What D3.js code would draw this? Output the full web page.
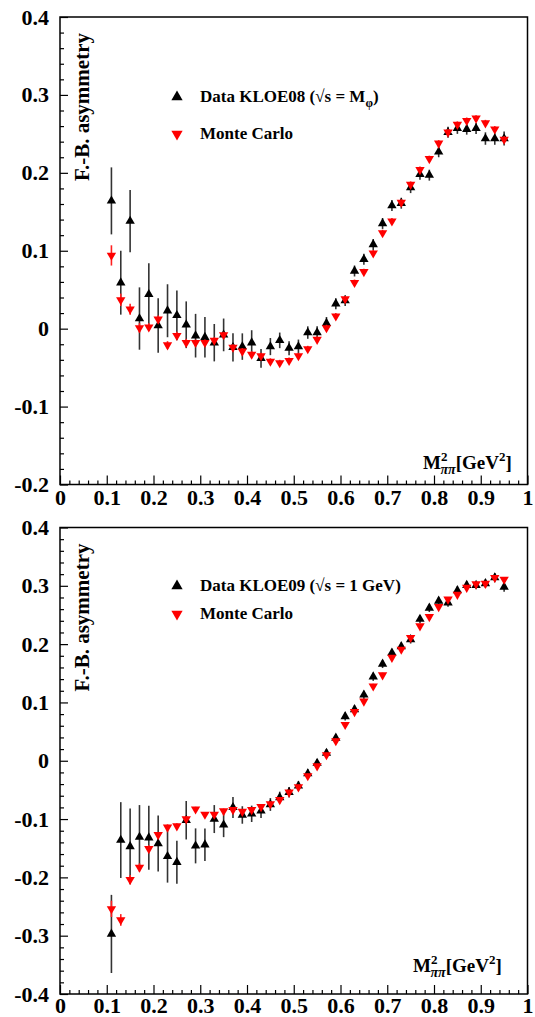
<!DOCTYPE html>
<html><head><meta charset="utf-8">
<script src="https://cdn.jsdelivr.net/npm/d3@7"></script>
<style>
body{margin:0;background:#fff;}
svg{display:block;}
svg text{font-family:"Liberation Serif","DejaVu Serif","Times New Roman",serif !important;font-weight:bold;}
</style></head>
<body>
<svg id="c" width="535" height="1017"></svg>
<script>
// ---------- DATA ----------
const mass = [0.11,0.13,0.15,0.17,0.19,0.21,0.23,0.25,0.27,0.29,0.31,0.33,0.35,0.37,0.39,0.41,0.43,0.45,0.47,0.49,0.51,0.53,0.55,0.57,0.59,0.61,0.63,0.65,0.67,0.69,0.71,0.73,0.75,0.77,0.79,0.81,0.83,0.85,0.87,0.89,0.91,0.93,0.95];

const kloe08 = [0.164,0.059,0.138,0.013,0.044,0.004,0.023,0.017,0.005,-0.009,-0.011,-0.018,-0.008,-0.024,-0.023,-0.018,-0.038,-0.023,-0.015,-0.025,-0.023,-0.005,-0.005,0.007,0.032,0.036,0.074,0.089,0.108,0.135,0.158,0.161,0.181,0.198,0.197,0.227,0.252,0.257,0.256,0.257,0.244,0.244,0.244];
const kloe08Err = [0.043,0.041,0.040,0.040,0.040,0.035,0.034,0.032,0.030,0.028,0.026,0.024,0.021,0.018,0.017,0.016,0.012,0.011,0.010,0.009,0.009,0.008,0.008,0.008,0.007,0.007,0.007,0.007,0.007,0.007,0.007,0.007,0.007,0.007,0.007,0.007,0.007,0.007,0.007,0.007,0.008,0.008,0.009];
const mc08 = [0.094,0.037,0.025,0.001,0.002,0.012,-0.021,-0.009,-0.018,-0.018,-0.018,-0.015,-0.008,-0.024,-0.029,-0.033,-0.035,-0.042,-0.044,-0.041,-0.035,-0.026,-0.014,0.001,0.016,0.038,0.059,0.073,0.097,0.123,0.138,0.162,0.185,0.204,0.218,0.238,0.252,0.262,0.267,0.270,0.264,0.256,0.243];
const mc08Err = [0.013,0.008,0.007,0.006,0.005,0.005,0.005,0.005,0.005,0.004,0.004,0.004,0.004,0.004,0.004,0.004,0.004,0.004,0.004,0.004,0.004,0.004,0.004,0.004,0.004,0.004,0.004,0.004,0.004,0.004,0.004,0.004,0.004,0.004,0.004,0.004,0.004,0.004,0.004,0.004,0.004,0.004,0.004];

const kloe09 = [-0.297,-0.136,-0.147,-0.131,-0.132,-0.142,-0.164,-0.174,-0.102,-0.146,-0.144,-0.100,-0.110,-0.080,-0.093,-0.091,-0.086,-0.075,-0.063,-0.054,-0.043,-0.022,-0.004,0.013,0.039,0.076,0.088,0.113,0.144,0.166,0.185,0.196,0.208,0.243,0.262,0.274,0.271,0.292,0.301,0.301,0.304,0.314,0.298];
const kloe09Err = [0.067,0.065,0.065,0.055,0.055,0.048,0.045,0.037,0.033,0.030,0.028,0.024,0.021,0.018,0.015,0.014,0.012,0.011,0.010,0.009,0.008,0.008,0.007,0.007,0.007,0.007,0.007,0.007,0.007,0.007,0.007,0.007,0.007,0.007,0.007,0.007,0.007,0.007,0.007,0.007,0.007,0.008,0.008];
const mc09 = [-0.254,-0.273,-0.204,-0.183,-0.151,-0.127,-0.114,-0.112,-0.100,-0.083,-0.092,-0.092,-0.086,-0.084,-0.087,-0.084,-0.079,-0.074,-0.067,-0.054,-0.045,-0.026,-0.009,0.010,0.034,0.062,0.084,0.102,0.128,0.147,0.177,0.191,0.211,0.231,0.247,0.264,0.277,0.285,0.297,0.303,0.304,0.314,0.311];
const mc09Err = [0.014,0.010,0.008,0.007,0.006,0.005,0.005,0.005,0.005,0.004,0.004,0.004,0.004,0.004,0.004,0.004,0.004,0.004,0.004,0.004,0.004,0.004,0.004,0.004,0.004,0.004,0.004,0.004,0.004,0.004,0.004,0.004,0.004,0.004,0.004,0.004,0.004,0.004,0.004,0.004,0.004,0.004,0.004];

const xTicks = [0,0.1,0.2,0.3,0.4,0.5,0.6,0.7,0.8,0.9,1];
const xTickLabels = ["0","0.1","0.2","0.3","0.4","0.5","0.6","0.7","0.8","0.9","1"];
const yTicksTop = [-0.2,-0.1,0,0.1,0.2,0.3,0.4];
const yTickLabelsTop = ["-0.2","-0.1","0","0.1","0.2","0.3","0.4"];
const yTicksBot = [-0.4,-0.3,-0.2,-0.1,0,0.1,0.2,0.3,0.4];
const yTickLabelsBot = ["-0.4","-0.3","-0.2","-0.1","0","0.1","0.2","0.3","0.4"];
const yTitle = "F.-B. asymmetry";
const legendTop = ["Data KLOE08", "Monte Carlo"];
const legendBot = ["Data KLOE09 (\u221As = 1 GeV)", "Monte Carlo"];

// ---------- DRAW ----------
const svg = d3.select("#c");
const L = 60, R = 527.5;
const FONT = '"Liberation Serif","DejaVu Serif",serif';

function panel(cfg){
  const g = svg.append("g");
  const x = d3.scaleLinear().domain([0,1]).range([L,R]);
  const y = d3.scaleLinear().domain(cfg.ydom).range([cfg.bottom,cfg.top]);

  const xMinor = d3.range(0,1.0001,0.02).filter(v=>Math.abs(v*10-Math.round(v*10))>1e-6);
  g.append("g").attr("transform",`translate(0,${cfg.bottom})`)
    .call(d3.axisBottom(x).tickValues(xMinor).tickSize(-4).tickFormat(""))
    .call(a=>a.select(".domain").remove())
    .call(a=>a.selectAll("line").attr("stroke","#000").attr("stroke-width",1.2));
  const yMinor = d3.range(cfg.ydom[0],cfg.ydom[1]+1e-6,0.02).filter(v=>Math.abs(v*10-Math.round(v*10))>1e-6);
  g.append("g").attr("transform",`translate(${L},0)`)
    .call(d3.axisLeft(y).tickValues(yMinor).tickSize(-4).tickFormat(""))
    .call(a=>a.select(".domain").remove())
    .call(a=>a.selectAll("line").attr("stroke","#000").attr("stroke-width",1.2));

  const xa = g.append("g").attr("transform",`translate(0,${cfg.bottom})`)
    .call(d3.axisBottom(x).tickValues(xTicks).tickSize(-9).tickPadding(cfg.xpad)
      .tickFormat((d,i)=>xTickLabels[i]));
  const ya = g.append("g").attr("transform",`translate(${L},0)`)
    .call(d3.axisLeft(y).tickValues(cfg.yticks).tickSize(-8).tickPadding(11)
      .tickFormat((d,i)=>cfg.ylabels[i]));
  [xa,ya].forEach(a=>{
    a.attr("font-family",FONT).attr("font-size",22);
    a.select(".domain").remove();
    a.selectAll("line").attr("stroke","#000").attr("stroke-width",1.2);
    a.selectAll("text").attr("fill","#000");
  });

  g.append("rect").attr("x",L).attr("y",cfg.top).attr("width",R-L).attr("height",cfg.bottom-cfg.top)
    .attr("fill","none").attr("stroke","#000").attr("stroke-width",1.5);

  g.append("text").attr("transform",`translate(89,${cfg.top+16}) rotate(-90)`)
    .attr("text-anchor","end").attr("font-size",21).text(yTitle);

  const xt = g.append("text").attr("x",cfg.xtx).attr("y",cfg.xty).attr("font-size",19);
  xt.append("tspan").text("M");
  xt.append("tspan").attr("dy",-8).attr("font-size",13).text("2");
  xt.append("tspan").attr("dx",-7).attr("dy",13).attr("font-size",14).attr("font-style","italic").text("\u03C0\u03C0");
  xt.append("tspan").attr("dy",-5).text("[GeV");
  xt.append("tspan").attr("dy",-8).attr("font-size",13).text("2");
  xt.append("tspan").attr("dy",8).text("]");

  function series(vals, errs, color, ecolor, down){
    const sg = g.append("g");
    sg.selectAll("line").data(mass).join("line")
      .attr("x1",d=>x(d)).attr("x2",d=>x(d))
      .attr("y1",(d,i)=>y(vals[i]-errs[i])).attr("y2",(d,i)=>y(vals[i]+errs[i]))
      .attr("stroke",ecolor).attr("stroke-width",1.6);
    sg.selectAll("path").data(mass).join("path")
      .attr("d",d3.symbol(d3.symbolTriangle,38))
      .attr("transform",(d,i)=>`translate(${x(d)},${y(vals[i])})${down?" rotate(180)":""}`)
      .attr("fill",color);
  }
  series(cfg.dat, cfg.datErr, "#000", "#333", false);
  series(cfg.mc, cfg.mcErr, "#ff0000", "#ff2020", true);

  const lg = g.append("g");
  lg.append("path").attr("d",d3.symbol(d3.symbolTriangle,55))
    .attr("transform",`translate(177,${cfg.leg1})`).attr("fill","#000");
  lg.append("path").attr("d",d3.symbol(d3.symbolTriangle,55))
    .attr("transform",`translate(177,${cfg.leg2}) rotate(180)`).attr("fill","#ff0000");
  const t1 = lg.append("text").attr("x",200).attr("y",cfg.leg1+5).attr("font-size",17);
  cfg.leg1text(t1);
  lg.append("text").attr("x",200).attr("y",cfg.leg2+5).attr("font-size",17).text(cfg.legend[1]);
}

panel({top:17,bottom:484.5,ydom:[-0.2,0.4],yticks:yTicksTop,ylabels:yTickLabelsTop,
  dat:kloe08,datErr:kloe08Err,mc:mc08,mcErr:mc08Err,xtx:423,xty:469,xpad:5,
  leg1:97,leg2:134,legend:legendTop,
  leg1text:t=>{t.append("tspan").text(legendTop[0]+" (\u221As = M");
    t.append("tspan").attr("dy",5).attr("font-size",12).text("\u03C6");
    t.append("tspan").attr("dy",-5).text(")");}});

panel({top:527.5,bottom:994,ydom:[-0.4,0.4],yticks:yTicksBot,ylabels:yTickLabelsBot,
  dat:kloe09,datErr:kloe09Err,mc:mc09,mcErr:mc09Err,xtx:413,xty:972,xpad:3,
  leg1:586,leg2:614,legend:legendBot,
  leg1text:t=>t.text(legendBot[0])});
</script>
</body></html>
